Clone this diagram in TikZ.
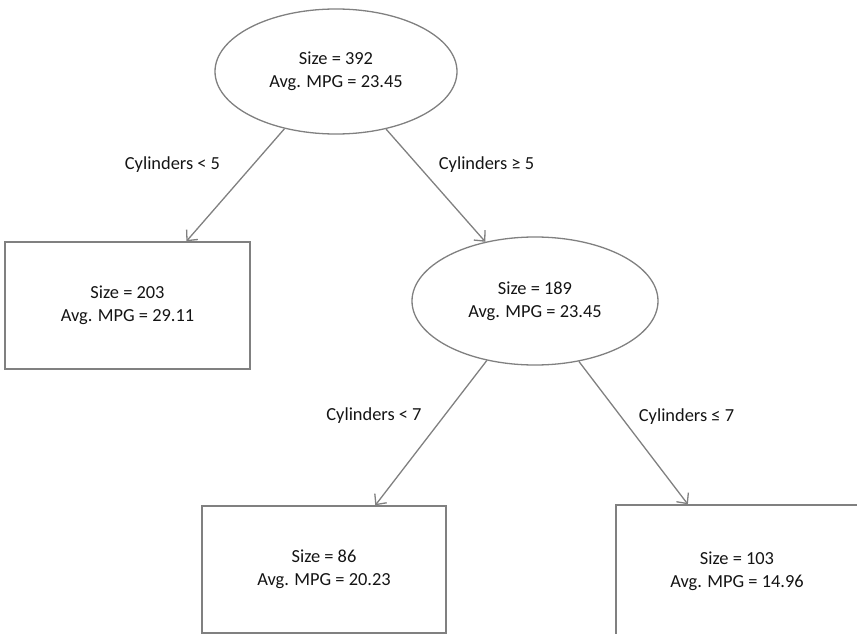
\documentclass[tikz,border=0pt]{standalone}
\usepackage{fontspec}
\setmainfont{Carlito}
\usetikzlibrary{shapes.geometric,arrows.meta,calc}
\definecolor{edgegray}{RGB}{128,128,128}
\definecolor{txt}{RGB}{20,20,20}
\begin{document}
\begin{tikzpicture}[x=1pt,y=-1pt,
  every node/.style={text=txt,font=\fontsize{18.4}{23}\selectfont},
  oval/.style={ellipse,draw=edgegray,line width=1.3pt,inner sep=0pt,align=center},
  leaf/.style={rectangle,draw=edgegray,line width=1.4pt,inner sep=0pt,align=center},
  conn/.style={draw=edgegray,line width=1.3pt,-{Straight Barb[length=8pt,width=15pt,line width=1.3pt]}},
  lbl/.style={inner sep=0pt}]
\clip (0,0) rectangle (857,634);
\node[oval,minimum width=242pt,minimum height=125pt] (top) at (336,71.5) {Size = 392\\Avg. MPG = 23.45};
\node[leaf,minimum width=245pt,minimum height=127pt] (left) at (127.5,305.5) {Size = 203\\Avg. MPG = 29.11};
\node[oval,minimum width=246pt,minimum height=128pt] (mid) at (535,301) {Size = 189\\Avg. MPG = 23.45};
\node[leaf,minimum width=244pt,minimum height=127pt] (bl) at (324,569.5) {Size = 86\\Avg. MPG = 20.23};
\node[leaf,minimum width=242pt,minimum height=133pt] (br) at (737,571.5) {Size = 103\\Avg. MPG = 14.96};
\draw[conn] (top.228.9) -- ($(left.north west)!0.739!(left.north east)$);
\draw[conn] (top.311.6) -- (mid.130.4);
\draw[conn] (mid.231.8) -- ($(bl.north west)!0.709!(bl.north east)$);
\draw[conn] (mid.306.4) -- ($(br.north west)!0.298!(br.north east)$);
\node[lbl] (l1) at (172.5,165) {Cylinders < 5};
\node[lbl] (l2) at (486.5,165) {Cylinders ≥ 5};
\node[lbl] (l3) at (374,416) {Cylinders < 7};
\node[lbl] (l4) at (686.5,417) {Cylinders ≤ 7};
\end{tikzpicture}
\end{document}
